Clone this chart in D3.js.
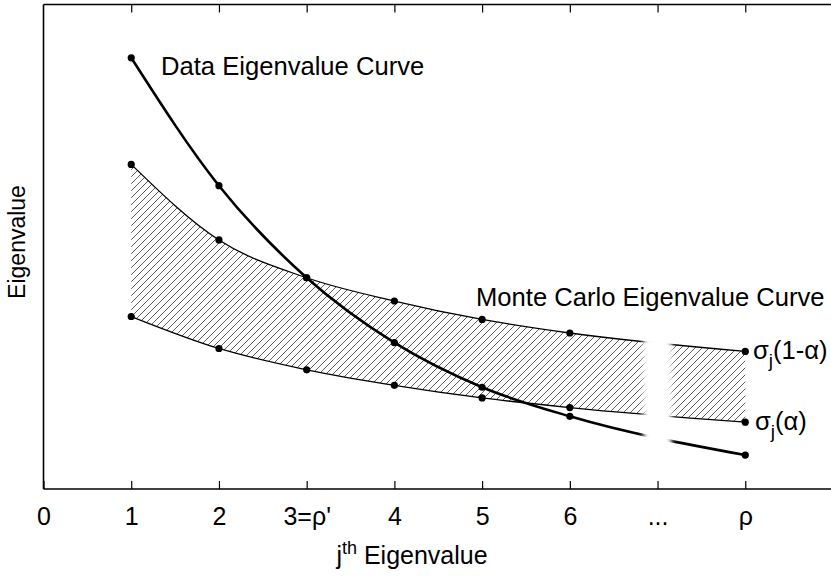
<!DOCTYPE html>
<html>
<head>
<meta charset="utf-8">
<script src="https://cdn.jsdelivr.net/npm/d3@7"></script>
<style>
  html, body { margin: 0; padding: 0; background: #fff; }
  svg { display: block; font-family: "Liberation Sans", Arial, Helvetica, sans-serif; }
</style>
</head>
<body>
<script>
// Eigenvalue index positions (position 7 stands for the elided "..." range, 8 for rho)
const positions = [1, 2, 3, 4, 5, 6, 8];
const tickValues = [0, 1, 2, 3, 4, 5, 6, 7, 8];
const tickLabels = ["0", "1", "2", "3=\u03C1'", "4", "5", "6", "...", "\u03C1"];

// Eigenvalues of the observed data
const dataEigen = [4.45, 3.13, 2.18, 1.51, 1.05, 0.75, 0.35];
// Monte Carlo percentile curves: sigma_j(1-alpha) and sigma_j(alpha)
const mcUpper = [3.35, 2.57, 2.18, 1.94, 1.75, 1.61, 1.42];
const mcLower = [1.78, 1.45, 1.23, 1.07, 0.94, 0.84, 0.69];

const W = 831, H = 576;
const plotLeft = 43.5, plotRight = 833, plotTop = 4.5, plotBottom = 489;

const svg = d3.select("body").append("svg")
  .attr("width", W).attr("height", H);

const x = d3.scaleLinear().domain([0, 9]).range([plotLeft, plotRight]);
const y = d3.scaleLinear().domain([0, 5]).range([plotBottom, plotTop]);

const defs = svg.append("defs");
const hatch = defs.append("pattern")
  .attr("id", "hatch")
  .attr("patternUnits", "userSpaceOnUse")
  .attr("width", 7).attr("height", 7);
hatch.append("path")
  .attr("d", "M0,7 L7,0 M-1,1 L1,-1 M6,8 L8,6")
  .attr("stroke", "#333").attr("stroke-width", 0.8).attr("fill", "none");

const blur = defs.append("filter").attr("id", "soft")
  .attr("x", "-50%").attr("y", "-20%").attr("width", "200%").attr("height", "140%");
blur.append("feGaussianBlur").attr("stdDeviation", 2.5);

const rows = positions.map((p, i) => ({ p, d: dataEigen[i], u: mcUpper[i], l: mcLower[i] }));
const curve = d3.curveMonotoneX;

// hatched band between the two Monte Carlo curves
svg.append("path")
  .datum(rows)
  .attr("fill", "url(#hatch)")
  .attr("d", d3.area().curve(curve).x(r => x(r.p)).y0(r => y(r.l)).y1(r => y(r.u)));

const lineOf = key => d3.line().curve(curve).x(r => x(r.p)).y(r => y(r[key]));

svg.append("path").datum(rows).attr("fill", "none").attr("stroke", "#000")
  .attr("stroke-width", 1.3).attr("d", lineOf("u"));
svg.append("path").datum(rows).attr("fill", "none").attr("stroke", "#000")
  .attr("stroke-width", 1.3).attr("d", lineOf("l"));
svg.append("path").datum(rows).attr("fill", "none").attr("stroke", "#000")
  .attr("stroke-width", 2.6).attr("d", lineOf("d"));

// break in the curves over the elided indices
svg.append("rect")
  .attr("x", x(7) - 14).attr("y", y(1.57)).attr("width", 28).attr("height", y(0.43) - y(1.57))
  .attr("fill", "#fff").attr("filter", "url(#soft)");

["d", "u", "l"].forEach(key => {
  svg.append("g").selectAll("circle").data(rows).join("circle")
    .attr("cx", r => x(r.p)).attr("cy", r => y(r[key]))
    .attr("r", 3.6).attr("fill", "#000");
});

// frame: left, top and bottom edges
const frame = svg.append("g").attr("stroke", "#000").attr("stroke-width", 1.6).attr("fill", "none");
frame.append("line").attr("x1", plotLeft).attr("x2", plotLeft).attr("y1", plotTop).attr("y2", plotBottom);
frame.append("line").attr("x1", plotLeft).attr("x2", W).attr("y1", plotTop).attr("y2", plotTop);
frame.append("line").attr("x1", plotLeft).attr("x2", W).attr("y1", plotBottom).attr("y2", plotBottom);

// inward ticks on bottom and top
const bottomAxis = svg.append("g").attr("transform", `translate(0,${plotBottom})`)
  .call(d3.axisBottom(x).tickValues(tickValues).tickSize(-8).tickPadding(18)
    .tickFormat((d, i) => tickLabels[i]));
bottomAxis.select(".domain").remove();
bottomAxis.selectAll(".tick line").attr("stroke-width", 1.2);
bottomAxis.selectAll(".tick text")
  .attr("font-size", 25).attr("fill", "#000")
  .attr("font-family", "'Liberation Sans', Arial, sans-serif");

const topAxis = svg.append("g").attr("transform", `translate(0,${plotTop})`)
  .call(d3.axisTop(x).tickValues(tickValues.slice(1)).tickSize(-8).tickFormat(""));
topAxis.select(".domain").remove();
topAxis.selectAll(".tick line").attr("stroke-width", 1.2);

// axis titles
const xt = svg.append("text").attr("x", 412).attr("y", 564)
  .attr("text-anchor", "middle").attr("font-size", 25);
xt.append("tspan").text("j");
xt.append("tspan").attr("font-size", 18).attr("dy", -10).text("th");
xt.append("tspan").attr("dy", 10).text(" Eigenvalue");

svg.append("text")
  .attr("transform", `translate(25,242) rotate(-90)`)
  .attr("text-anchor", "middle").attr("font-size", 23)
  .text("Eigenvalue");

// curve annotations
svg.append("text").attr("x", 161).attr("y", 75).attr("font-size", 25.6)
  .text("Data Eigenvalue Curve");
svg.append("text").attr("x", 476).attr("y", 306).attr("font-size", 25.6)
  .text("Monte Carlo Eigenvalue Curve");

const s1 = svg.append("text").attr("x", 753).attr("y", y(mcUpper[6]) + 8).attr("font-size", 25.6);
s1.append("tspan").text("\u03C3");
s1.append("tspan").attr("font-size", 19).attr("dy", 8).text("j");
s1.append("tspan").attr("dy", -8).text("(1-\u03B1)");

const s2 = svg.append("text").attr("x", 755).attr("y", y(mcLower[6]) + 8).attr("font-size", 25.6);
s2.append("tspan").text("\u03C3");
s2.append("tspan").attr("font-size", 19).attr("dy", 8).text("j");
s2.append("tspan").attr("dy", -8).text("(\u03B1)");
</script>
</body>
</html>
